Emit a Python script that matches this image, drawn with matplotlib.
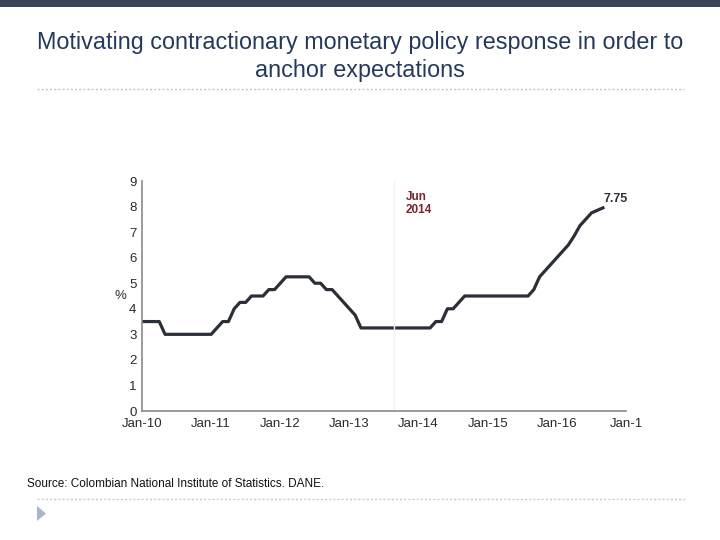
import matplotlib.pyplot as plt
import numpy as np
from matplotlib.patches import Rectangle, Polygon
from matplotlib.lines import Line2D

plt.rcParams['font.family'] = ['Liberation Sans', 'DejaVu Sans']

# monthly policy rate, Jan-2010 .. Sep-2016
rate = [3.5, 3.5, 3.5, 3.5, 3.0, 3.0, 3.0, 3.0, 3.0, 3.0, 3.0, 3.0,      # 2010
        3.0, 3.25, 3.5, 3.5, 4.0, 4.25, 4.25, 4.5, 4.5, 4.5, 4.75, 4.75,  # 2011
        5.0, 5.25, 5.25, 5.25, 5.25, 5.25, 5.0, 5.0, 4.75, 4.75, 4.5, 4.25,  # 2012
        4.0, 3.75, 3.25, 3.25, 3.25, 3.25, 3.25, 3.25, 3.25, 3.25, 3.25, 3.25,  # 2013
        3.25, 3.25, 3.25, 3.5, 3.5, 4.0, 4.0, 4.25, 4.5, 4.5, 4.5, 4.5,  # 2014
        4.5, 4.5, 4.5, 4.5, 4.5, 4.5, 4.5, 4.5, 4.75, 5.25, 5.5, 5.75,  # 2015
        6.0, 6.25, 6.5, 6.85, 7.25, 7.5, 7.75, 7.85, 7.95]  # 2016
x_dates = 2010 + np.arange(len(rate)) / 12.0

tick_pos = [2010, 2011, 2012, 2013, 2014, 2015, 2016, 2017]
tick_labels = ["Jan-10", "Jan-11", "Jan-12", "Jan-13", "Jan-14", "Jan-15", "Jan-16", "Jan-1"]
marker_x = 2013.65  # position of the "Jun 2014" guide line as drawn

fig = plt.figure(figsize=(7.2, 5.4), dpi=100)

# slide decorations
fig.add_artist(Rectangle((0, 1 - 7 / 540), 1, 7 / 540, transform=fig.transFigure,
                         color="#3b4457", lw=0))
fig.add_artist(Line2D([37 / 720, 684 / 720], [1 - 89 / 540] * 2, transform=fig.transFigure,
                      color="#c4c4c4", lw=1, ls=(0, (1.5, 1.5))))
fig.add_artist(Line2D([37 / 720, 686 / 720], [1 - 499 / 540] * 2, transform=fig.transFigure,
                      color="#c4ccd4", lw=1, ls=(0, (1.5, 1.5))))
fig.add_artist(Polygon([[37 / 720, 1 - 506 / 540], [37 / 720, 1 - 521 / 540], [46 / 720, 1 - 513.5 / 540]],
                       closed=True, transform=fig.transFigure, color="#a7b6c8", lw=0))

fig.text(0.5, 1 - 43 / 540, "Motivating contractionary monetary policy response in order to",
         ha="center", va="center", fontsize=16.8, color="#24395c")
fig.text(0.5, 1 - 70 / 540, "anchor expectations",
         ha="center", va="center", fontsize=16.8, color="#24395c")
fig.text(27 / 720, 1 - 484 / 540, "Source: Colombian National Institute of Statistics. DANE.",
         ha="left", va="center", fontsize=8.5, color="#111111")

ax = fig.add_axes([142 / 720, 1 - 411 / 540, 484 / 720, 230 / 540])
ax.plot(x_dates, rate, color="#2b2f38", lw=2.3, solid_joinstyle="round")
ax.axvline(marker_x, color="#f2f2f2", lw=1)

ax.set_xlim(2010, 2017)
ax.set_ylim(0, 9)
ax.set_yticks(range(0, 10))
ax.set_xticks(tick_pos)
ax.set_xticklabels(tick_labels)
ax.tick_params(length=0, labelsize=9.5, colors="#2a2a2a", pad=4)
ax.tick_params(axis="x", pad=5)
for s in ["top", "right"]:
    ax.spines[s].set_visible(False)
for s in ["left", "bottom"]:
    ax.spines[s].set_color("#8a8a8a")
    ax.spines[s].set_linewidth(1.2)
ax.set_ylabel("%", rotation=0, fontsize=9.5, color="#2a2a2a", labelpad=6, va="center")

ax.text(2013.81, 8.6, "Jun\n2014", fontsize=8.5, fontweight="bold", color="#7b2433",
        ha="left", va="top", linespacing=1.1)
ax.text(2016.67, 8.3, "7.75", fontsize=9, fontweight="bold", color="#2b2f38",
        ha="left", va="center")

fig.savefig("out.png", dpi=100)
